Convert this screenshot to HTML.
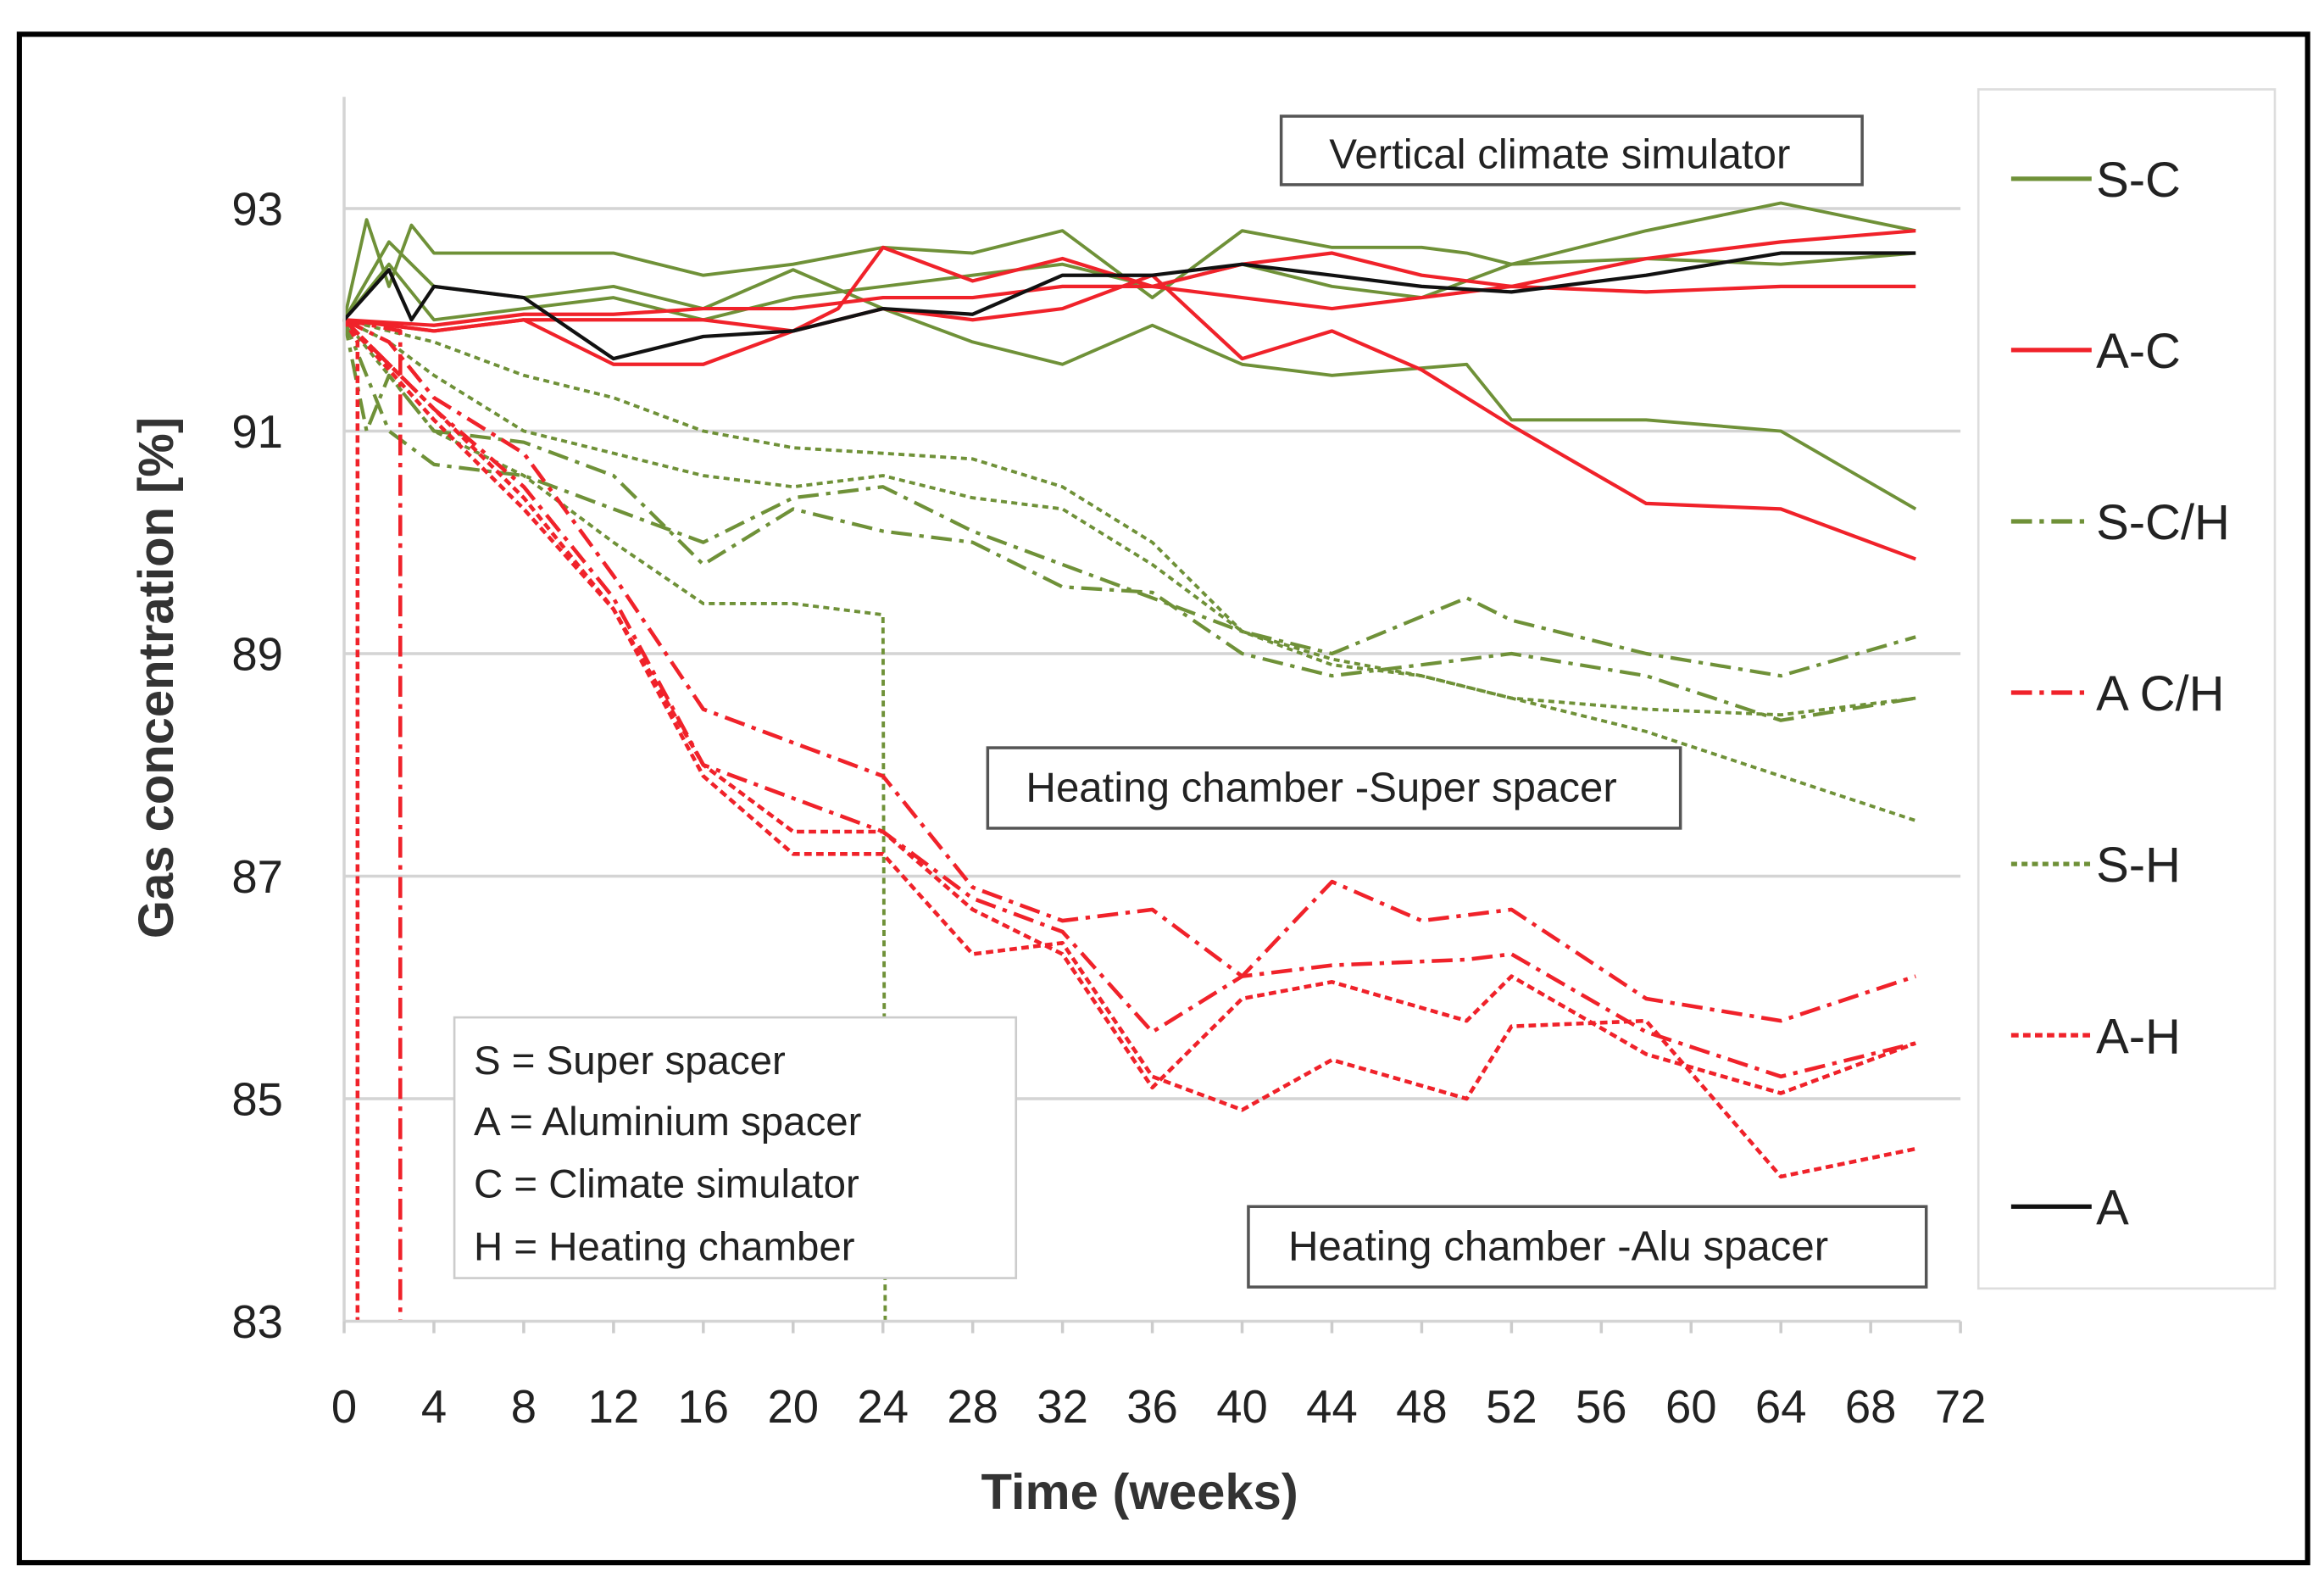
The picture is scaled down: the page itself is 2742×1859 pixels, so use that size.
<!DOCTYPE html>
<html><head><meta charset="utf-8"><style>
html,body{margin:0;padding:0;background:#fff;}
svg{display:block;font-family:"Liberation Sans Narrow","Liberation Sans",sans-serif;}
</style></head><body>
<svg id="chart" width="2742" height="1859" viewBox="0 0 1560 1058" preserveAspectRatio="none" xmlns="http://www.w3.org/2000/svg">
<rect x="13" y="23" width="1536" height="1026" fill="#fff" stroke="#000" stroke-width="3.5"/>
<g id="grid"></g>
<g id="series"></g>
<g id="axes"></g>
<text transform="translate(116,455) rotate(-90)" text-anchor="middle" font-size="33" font-weight="bold" fill="#333" font-family="Liberation Sans, sans-serif">Gas concentration [%]</text>
<text x="765" y="1013" text-anchor="middle" font-size="34" font-weight="bold" fill="#333">Time (weeks)</text>
<g>
<rect x="860" y="78" width="390" height="46" fill="#fff" stroke="#555" stroke-width="2"/>
<text x="1047" y="113" text-anchor="middle" font-size="28" fill="#222">Vertical climate simulator</text></g>
<g>
<rect x="663" y="502" width="465" height="54" fill="#fff" stroke="#555" stroke-width="2"/>
<text x="887" y="538" text-anchor="middle" font-size="28" fill="#222">Heating chamber -Super spacer</text></g>
<g>
<rect x="838" y="810" width="455" height="54" fill="#fff" stroke="#555" stroke-width="2"/>
<text x="1046" y="846" text-anchor="middle" font-size="28" fill="#222">Heating chamber -Alu spacer</text></g>
<g>
<rect x="305" y="683" width="377" height="175" fill="#fff" stroke="#ccc" stroke-width="1.5"/>
<text x="318" y="721" font-size="27" fill="#222">S = Super spacer</text>
<text x="318" y="762" font-size="27" fill="#222">A = Aluminium spacer</text>
<text x="318" y="804" font-size="27" fill="#222">C = Climate simulator</text>
<text x="318" y="846" font-size="27" fill="#222">H = Heating chamber</text></g>
<g id="legend">
<rect x="1328" y="60" width="199" height="805" fill="#fff" stroke="#ddd" stroke-width="1.5"/></g>
<script>
const weeks=[0,4,8,12,16,20,24,28,32,36,40,44,48,52,56,60,64,68,72];
const yTicks=[83,85,87,89,91,93];
const legendNames=["S-C","A-C","S-C/H","A C/H","S-H","A-H","A"];
const GREEN="#6f9138",RED="#f0222a",BLACK="#111";
// series: [weeks], [values]
const sc1X=[0,1,2,3,4,8,12,16,20,24,28,32,36,40,44,48,50,52,58,64,70];
const sc1Y=[92,92.9,92.3,92.85,92.6,92.6,92.6,92.4,92.5,92.65,92.6,92.8,92.2,92.8,92.65,92.65,92.6,92.5,92.8,93.05,92.8];
const sc2X=[0,2,4,8,12,16,20,24,28,32,36,40,44,50,52,58,64,70];
const sc2Y=[92,92.7,92.3,92.2,92.3,92.1,92.45,92.1,91.8,91.6,91.95,91.6,91.5,91.6,91.1,91.1,91.0,90.3];
const sc3X=[0,2,4,8,12,16,20,24,28,32,36,40,44,48,52,58,64,70];
const sc3Y=[92,92.5,92.0,92.1,92.2,92.0,92.2,92.3,92.4,92.5,92.3,92.5,92.3,92.2,92.5,92.55,92.5,92.6];
const ac1X=[0,4,8,12,16,20,24,28,32,36,40,44,48,52,58,64,70];
const ac1Y=[92,91.95,92.05,92.05,92.1,92.1,92.2,92.2,92.3,92.3,92.2,92.1,92.2,92.3,92.25,92.3,92.3];
const ac2X=[0,4,8,12,16,20,22,24,28,32,36,40,44,48,52,58,64,70];
const ac2Y=[92,91.9,92.0,91.6,91.6,91.9,92.1,92.65,92.35,92.55,92.3,92.5,92.6,92.4,92.3,92.55,92.7,92.8];
const ac3X=[0,4,8,12,16,20,24,28,32,36,40,44,48,52,58,64,70];
const ac3Y=[92,91.9,92.0,92.0,92.0,91.9,92.1,92.0,92.1,92.4,91.65,91.9,91.55,91.05,90.35,90.3,89.85];
const aX=[0,2,3,4,8,12,16,20,24,28,32,36,40,44,48,52,58,64,70];
const aY=[92,92.45,92.0,92.3,92.2,91.65,91.85,91.9,92.1,92.05,92.4,92.4,92.5,92.4,92.3,92.25,92.4,92.6,92.6];
const sch1X=[0,1,2,4,8,12,16,20,24,28,32,36,40,44,48,52,58,64,70];
const sch1Y=[92,91.0,91.5,91.0,90.9,90.6,89.8,90.3,90.1,90.0,89.6,89.55,89.0,88.8,88.9,89.0,88.8,88.4,88.6];
const sch2X=[0,2,4,8,12,16,20,24,28,32,36,40,44,50,52,58,64,70];
const sch2Y=[92,91.0,90.7,90.6,90.3,90.0,90.4,90.5,90.1,89.8,89.5,89.2,89.0,89.5,89.3,89.0,88.8,89.15];
const ach1X=[0,2,4,8,12,16,20,24,28,32,36,40,44,48,52,58,64,70];
const ach1Y=[92,91.8,91.3,90.8,89.7,88.5,88.2,87.9,86.9,86.6,86.7,86.1,86.95,86.6,86.7,85.9,85.7,86.1];
const ach2X=[0,2,4,8,12,16,20,24,28,32,36,40,44,50,52,58,64,70];
const ach2Y=[92,91.6,91.2,90.5,89.5,88.0,87.7,87.4,86.8,86.5,85.6,86.1,86.2,86.25,86.3,85.6,85.2,85.5];
const ach3X=[0,2.5,2.5];
const ach3Y=[92,91.9,83];
const sh1X=[0,2,4,8,12,16,20,24,28,32,36,40,44,48,52,58,64,70];
const sh1Y=[92,91.9,91.8,91.5,91.3,91.0,90.85,90.8,90.75,90.5,90.0,89.2,88.9,88.8,88.6,88.3,87.9,87.5];
const sh2X=[0,2,4,8,12,16,20,24,28,32,36,40,44,48,52,58,64,70];
const sh2Y=[92,91.8,91.5,91.0,90.8,90.6,90.5,90.6,90.4,90.3,89.8,89.2,88.95,88.8,88.6,88.5,88.45,88.6];
const sh3X=[0,2,4,8,12,16,20,24,24.1];
const sh3Y=[92,91.5,91.0,90.6,90.0,89.45,89.45,89.35,83];
const ah1X=[0,2,4,8,12,16,20,24,28,32,36,40,44,50,52,58,64,70];
const ah1Y=[92,91.6,91.2,90.4,89.4,88.0,87.4,87.4,86.7,86.3,85.1,85.9,86.05,85.7,86.1,85.4,85.05,85.5];
const ah2X=[0,4,8,12,16,20,24,28,32,36,40,44,50,52,58,64,70];
const ah2Y=[92,91.1,90.3,89.4,87.9,87.2,87.2,86.3,86.4,85.2,84.9,85.35,85.0,85.65,85.7,84.3,84.55];
const ah3X=[0,0.6,0.6];
const ah3Y=[92,91.8,83];

const NS="http://www.w3.org/2000/svg";
const X0=231,X1=1316,Y93=140,Y83=887;
function xs(w){return X0+(X1-X0)*w/72;}
function ys(v){return Y83-(Y83-Y93)*(v-83)/10;}
const grid=document.getElementById('grid'),axes=document.getElementById('axes'),ser=document.getElementById('series'),leg=document.getElementById('legend');
function el(t,a,p){const e=document.createElementNS(NS,t);for(const k in a)e.setAttribute(k,a[k]);p.appendChild(e);return e;}
yTicks.forEach(v=>{
  if(v>83){const g=el('line',{x1:X0,x2:X1,y1:ys(v),y2:ys(v),stroke:'#d4d4d4','stroke-width':2},grid);
  
  }
  const t=el('text',{x:190,y:ys(v)+11,'text-anchor':'end','font-size':31,fill:'#222'},axes);
  t.textContent=v;
  
  
});
const ax=el('line',{x1:X0,x2:X0,y1:65,y2:Y83,stroke:'#d4d4d4','stroke-width':2},axes);


const bx=el('line',{x1:X0,x2:X1,y1:Y83,y2:Y83,stroke:'#d4d4d4','stroke-width':2},axes);


weeks.forEach(w=>{
  el('line',{x1:xs(w),x2:xs(w),y1:Y83,y2:Y83+8,stroke:'#ccc','stroke-width':2},axes);
  const t=el('text',{x:xs(w),y:955,'text-anchor':'middle','font-size':31,fill:'#222'},axes);
  t.textContent=w;
  
  
});
const styles={
 "S-C":{c:GREEN,d:"",w:2.2},"A-C":{c:RED,d:"",w:2.4},"S-C/H":{c:GREEN,d:"14,5,3,5",w:2.4},
 "A C/H":{c:RED,d:"14,5,3,5",w:2.6},"S-H":{c:GREEN,d:"4,3",w:2.2},"A-H":{c:RED,d:"5,3",w:2.6},"A":{c:BLACK,d:"",w:2.4}};
const seriesList=[
 ["S-H",sh1X,sh1Y],["S-H",sh2X,sh2Y],["S-H",sh3X,sh3Y],
 ["S-C/H",sch1X,sch1Y],["S-C/H",sch2X,sch2Y],
 ["A-H",ah1X,ah1Y],["A-H",ah2X,ah2Y],["A-H",ah3X,ah3Y],
 ["A C/H",ach1X,ach1Y],["A C/H",ach2X,ach2Y],["A C/H",ach3X,ach3Y],
 ["S-C",sc1X,sc1Y],["S-C",sc2X,sc2Y],["S-C",sc3X,sc3Y],
 ["A-C",ac1X,ac1Y],["A-C",ac2X,ac2Y],["A-C",ac3X,ac3Y],
 ["A",aX,aY]];
seriesList.forEach(([n,X,Y])=>{
  const s=styles[n];
  const pts=X.map((w,i)=>xs(w).toFixed(1)+","+ys(Y[i]).toFixed(1)).join(" ");
  const p=el('polyline',{points:pts,fill:'none',stroke:s.c,'stroke-width':s.w,'stroke-dasharray':s.d,'stroke-linejoin':'round'},ser);
  
  
});
legendNames.forEach((n,i)=>{
  const y=120+i*115, s=styles[n];
  const l=el('line',{x1:1350,x2:1404,y1:y,y2:y,stroke:s.c,'stroke-width':3,'stroke-dasharray':s.d},leg);
  
  
  const t=el('text',{x:1407,y:y+12,'font-size':33,fill:'#222'},leg);
  t.textContent=n;
  
  
});
</script>
</svg>
</body></html>
